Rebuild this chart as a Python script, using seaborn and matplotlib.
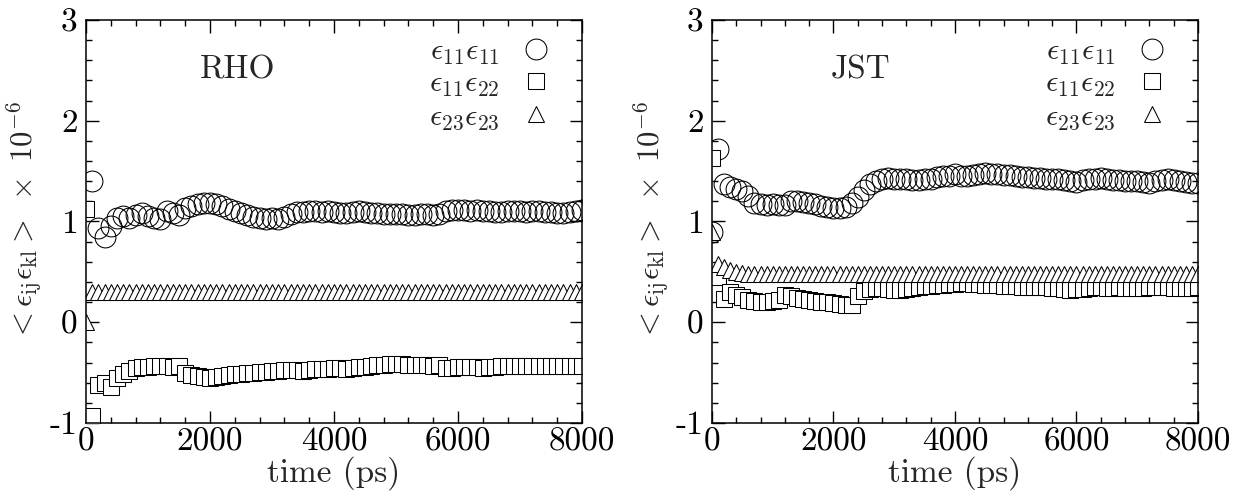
import numpy as np
import pandas as pd
import matplotlib
matplotlib.use("Agg")
import matplotlib.pyplot as plt
import seaborn as sns
from matplotlib.ticker import MultipleLocator

# sampling times (ps), one point every 100 ps
time_ps = np.arange(0, 8001, 100)

# ---- RHO panel ----
rho_e11e11 = [
    np.nan, 1.40, 0.94, 0.85, 0.96, 1.03, 1.05, 1.03, 1.06, 1.08,
    1.05, 1.03, 1.02, 1.10, 1.08, 1.06, 1.13, 1.15, 1.17, 1.18,
    1.18, 1.17, 1.15, 1.12, 1.10, 1.08, 1.06, 1.04, 1.03, 1.02,
    1.03, 1.02, 1.04, 1.07, 1.09, 1.09, 1.10, 1.10, 1.09, 1.10,
    1.09, 1.08, 1.08, 1.09, 1.10, 1.09, 1.08, 1.08, 1.07, 1.07,
    1.07, 1.07, 1.06, 1.06, 1.07, 1.07, 1.06, 1.07, 1.10, 1.11,
    1.11, 1.11, 1.10, 1.11, 1.10, 1.10, 1.09, 1.09, 1.10, 1.10,
    1.10, 1.09, 1.10, 1.10, 1.09, 1.09, 1.08, 1.08, 1.09, 1.10,
    1.11,
]
rho_e11e22 = [
    1.12, -0.93, -0.62, -0.60, -0.64, -0.55, -0.51, -0.48, -0.45, -0.44,
    -0.44, -0.43, -0.43, -0.43, -0.44, -0.43, -0.50, -0.52, -0.53, -0.54,
    -0.55, -0.54, -0.53, -0.52, -0.51, -0.51, -0.50, -0.50, -0.49, -0.49,
    -0.48, -0.48, -0.47, -0.47, -0.47, -0.48, -0.47, -0.46, -0.46, -0.46,
    -0.45, -0.45, -0.46, -0.45, -0.44, -0.44, -0.43, -0.42, -0.42, -0.41,
    -0.41, -0.41, -0.42, -0.42, -0.42, -0.42, -0.43, -0.42, -0.45, -0.45,
    -0.44, -0.44, -0.44, -0.44, -0.45, -0.44, -0.44, -0.43, -0.43, -0.43,
    -0.43, -0.43, -0.43, -0.43, -0.43, -0.43, -0.43, -0.43, -0.43, -0.43,
    -0.43,
]
rho_e23e23 = [
    0.00, 0.30, 0.30, 0.30, 0.30, 0.30, 0.30, 0.30, 0.30, 0.30,
    0.30, 0.30, 0.30, 0.30, 0.30, 0.30, 0.30, 0.30, 0.30, 0.30,
    0.30, 0.30, 0.30, 0.30, 0.30, 0.30, 0.30, 0.30, 0.30, 0.30,
    0.30, 0.30, 0.30, 0.30, 0.30, 0.30, 0.30, 0.30, 0.30, 0.30,
    0.30, 0.30, 0.30, 0.30, 0.30, 0.30, 0.30, 0.30, 0.30, 0.30,
    0.30, 0.30, 0.30, 0.30, 0.30, 0.30, 0.30, 0.30, 0.30, 0.30,
    0.30, 0.30, 0.30, 0.30, 0.30, 0.30, 0.30, 0.30, 0.30, 0.30,
    0.30, 0.30, 0.30, 0.30, 0.30, 0.30, 0.30, 0.30, 0.30, 0.30,
    0.30,
]

# ---- JST panel ----
jst_e11e11 = [
    0.90, 1.72, 1.37, 1.34, 1.32, 1.30, 1.25, 1.18, 1.17, 1.16,
    1.17, 1.16, 1.16, 1.20, 1.20, 1.19, 1.18, 1.17, 1.15, 1.14,
    1.13, 1.13, 1.14, 1.18, 1.24, 1.31, 1.37, 1.40, 1.42, 1.43,
    1.42, 1.42, 1.42, 1.41, 1.41, 1.42, 1.42, 1.44, 1.45, 1.45,
    1.47, 1.45, 1.45, 1.46, 1.47, 1.48, 1.47, 1.47, 1.46, 1.46,
    1.45, 1.44, 1.44, 1.43, 1.43, 1.42, 1.42, 1.42, 1.41, 1.40,
    1.39, 1.41, 1.42, 1.42, 1.43, 1.42, 1.41, 1.41, 1.40, 1.40,
    1.40, 1.39, 1.38, 1.40, 1.41, 1.42, 1.41, 1.40, 1.39, 1.38,
    1.38,
]
jst_e11e22 = [
    1.63, 0.45, 0.23, 0.30, 0.27, 0.25, 0.22, 0.21, 0.20, 0.20,
    0.21, 0.22, 0.27, 0.26, 0.24, 0.23, 0.22, 0.21, 0.20, 0.20,
    0.19, 0.18, 0.17, 0.17, 0.26, 0.31, 0.33, 0.34, 0.34, 0.33,
    0.32, 0.32, 0.33, 0.34, 0.35, 0.36, 0.36, 0.37, 0.37, 0.38,
    0.38, 0.39, 0.39, 0.38, 0.38, 0.37, 0.37, 0.37, 0.36, 0.36,
    0.36, 0.35, 0.35, 0.35, 0.35, 0.35, 0.34, 0.34, 0.33, 0.32,
    0.33, 0.33, 0.34, 0.35, 0.35, 0.34, 0.34, 0.35, 0.34, 0.34,
    0.34, 0.34, 0.35, 0.35, 0.35, 0.35, 0.34, 0.34, 0.34, 0.34,
    0.35,
]
jst_e23e23 = [
    0.90, 0.58, 0.55, 0.52, 0.50, 0.49, 0.48, 0.48, 0.48, 0.48,
    0.48, 0.48, 0.48, 0.48, 0.48, 0.48, 0.48, 0.48, 0.48, 0.48,
    0.48, 0.48, 0.48, 0.48, 0.48, 0.48, 0.48, 0.48, 0.48, 0.48,
    0.48, 0.48, 0.48, 0.48, 0.48, 0.48, 0.48, 0.48, 0.48, 0.48,
    0.48, 0.48, 0.48, 0.48, 0.48, 0.48, 0.48, 0.48, 0.48, 0.48,
    0.48, 0.48, 0.48, 0.48, 0.48, 0.48, 0.48, 0.48, 0.48, 0.48,
    0.48, 0.48, 0.48, 0.48, 0.48, 0.48, 0.48, 0.48, 0.48, 0.48,
    0.48, 0.48, 0.48, 0.48, 0.48, 0.48, 0.48, 0.48, 0.48, 0.48,
    0.48,
]

series_labels = [r"$\epsilon_{11}\epsilon_{11}$", r"$\epsilon_{11}\epsilon_{22}$", r"$\epsilon_{23}\epsilon_{23}$"]
panels = [("RHO", [rho_e11e11, rho_e11e22, rho_e23e23]),
          ("JST", [jst_e11e11, jst_e11e22, jst_e23e23])]

sns.set_style("ticks")
plt.rcParams.update({
    "font.family": "serif",
    "font.serif": ["cmr10"],
    "mathtext.fontset": "cm",
    "axes.unicode_minus": False,
    "axes.formatter.use_mathtext": False,
    "axes.linewidth": 1.1,
    "axes.edgecolor": "black",
    "xtick.direction": "in",
    "ytick.direction": "in",
    "xtick.top": True,
    "ytick.right": True,
    "xtick.major.size": 9,
    "ytick.major.size": 9,
    "xtick.minor.size": 4.5,
    "ytick.minor.size": 4.5,
    "xtick.major.width": 1.0,
    "ytick.major.width": 1.0,
    "xtick.minor.width": 1.0,
    "ytick.minor.width": 1.0,
    "xtick.color": "black",
    "ytick.color": "black",
})

# marker styles: circles open, squares/triangles white-filled (later points cover earlier)
styles = [
    dict(marker="o", markersize=15, markerfacecolor="none"),
    dict(marker="s", markersize=11.5, markerfacecolor="white"),
    dict(marker="^", markersize=12, markerfacecolor="white"),
]

fig = plt.figure(figsize=(12.44, 4.95), dpi=100)
ax_pos = [[0.0691, 0.1455, 0.3987, 0.8141], [0.5723, 0.1455, 0.3907, 0.8141]]

for (name, series), pos in zip(panels, ax_pos):
    ax = fig.add_axes(pos)
    for vals, lab, st in zip(series, series_labels, styles):
        df = pd.DataFrame({"time": time_ps, "val": vals}).dropna()
        sns.lineplot(data=df, x="time", y="val", ax=ax, estimator=None, sort=False,
                     linestyle="", color="black", markeredgecolor="black",
                     markeredgewidth=0.75, label=lab, **st)
    ax.set_xlim(0, 8000)
    ax.set_ylim(-1, 3)
    ax.xaxis.set_major_locator(MultipleLocator(2000))
    ax.xaxis.set_minor_locator(MultipleLocator(400))
    ax.yaxis.set_major_locator(MultipleLocator(1))
    ax.yaxis.set_minor_locator(MultipleLocator(0.2))
    ax.tick_params(which="both", top=True, right=True, labelsize=24)
    ax.tick_params(axis="x", which="major", pad=3)
    ax.tick_params(axis="y", which="major", pad=6)
    ax.set_xlabel("time (ps)", fontsize=24, labelpad=0)
    ax.set_ylabel(r"$<\epsilon_{\rm ij}\epsilon_{\rm kl}>\ \times\ 10^{-6}$", fontsize=22)
    ax.yaxis.set_label_coords(-0.085, 0.5)
    ax.text(2450, 2.5, name, fontsize=24, ha="center", va="center")
    ax.legend(loc="upper right", markerfirst=False, frameon=False, fontsize=22,
              handlelength=1.0, handletextpad=0.7, labelspacing=0.12,
              borderaxespad=0.2, bbox_to_anchor=(0.975, 1.0))
    for side in ax.spines.values():
        side.set_linewidth(1.1)

fig.savefig("out.png", dpi=100)
